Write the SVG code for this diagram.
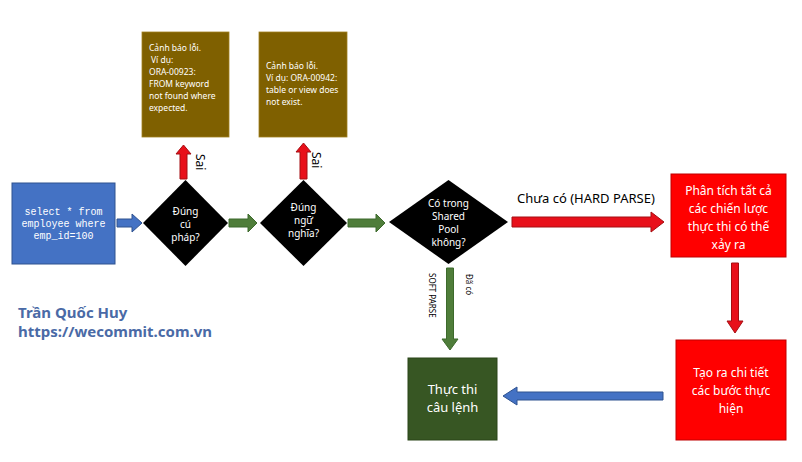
<svg xmlns="http://www.w3.org/2000/svg" width="802" height="462" viewBox="0 0 802 462">
<style>
.t{font-family:"Noto Sans","Liberation Sans",Arial,sans-serif;fill:#fff;text-anchor:middle}
.d{font-size:10px}
.w{font-size:8.5px;text-anchor:start}
.r{font-size:12px}
.mono{font-family:"Liberation Mono","DejaVu Sans Mono",monospace;font-size:10px;fill:#fff;text-anchor:middle}
.lbl{font-family:"Noto Sans","Liberation Sans",Arial,sans-serif;fill:#000}
.red{fill:#e8101a;stroke:#a50e12;stroke-width:1}
.grn{fill:#4f7d3a;stroke:#3d6a2c;stroke-width:1}
.blu{fill:#4472c4;stroke:#2f528f;stroke-width:1}
</style>
<rect width="802" height="462" fill="#fff"/>
<g id="warn1"><rect x="142" y="32" width="87" height="105" fill="#7f6000" stroke="#a08020" stroke-width="0.8"/>
<text class="t w" x="149" y="51">Cảnh báo lỗi.</text>
<text class="t w" x="151" y="63">Ví dụ:</text>
<text class="t w" x="149" y="75">ORA-00923:</text>
<text class="t w" x="149" y="87">FROM keyword</text>
<text class="t w" x="149" y="99">not found where</text>
<text class="t w" x="149" y="111">expected.</text></g>
<g id="warn2"><rect x="259" y="32" width="88" height="105" fill="#7f6000" stroke="#a08020" stroke-width="0.8"/>
<text class="t w" x="266" y="69">Cảnh báo lỗi.</text>
<text class="t w" x="266" y="81">Ví dụ: ORA-00942:</text>
<text class="t w" x="266" y="93">table or view does</text>
<text class="t w" x="266" y="105">not exist.</text></g>
<g id="start"><rect x="12" y="183" width="103" height="81" fill="#4472c4" stroke="#2f528f" stroke-width="1"/>
<text class="mono" x="63.5" y="215">select * from</text>
<text class="mono" x="63.5" y="227">employee where</text>
<text class="mono" x="63.5" y="239">emp_id=100</text></g>
<g id="syntax"><polygon points="185.5,180 228,223 185.5,266 143,223" fill="#000"/>
<text class="t d" x="185.5" y="215">Đúng</text>
<text class="t d" x="185.5" y="228">cú</text>
<text class="t d" x="185.5" y="241">pháp?</text></g>
<g id="semantic"><polygon points="303.5,180 347,223 303.5,266 260,223" fill="#000"/>
<text class="t d" x="303.5" y="211">Đúng</text>
<text class="t d" x="303.5" y="224">ngữ</text>
<text class="t d" x="303.5" y="237">nghĩa?</text></g>
<g id="pool"><polygon points="448.5,180 508,222 448.5,264 389,222" fill="#000"/>
<text class="t d" x="448.5" y="207">Có trong</text>
<text class="t d" x="448.5" y="220">Shared</text>
<text class="t d" x="448.5" y="233">Pool</text>
<text class="t d" x="448.5" y="246">không?</text></g>
<g id="analyze"><rect x="671" y="174" width="115" height="83" fill="#ff0000" stroke="#c00000" stroke-width="1"/>
<text class="t r" x="728.5" y="195">Phân tích tất cả</text>
<text class="t r" x="728.5" y="213">các chiến lược</text>
<text class="t r" x="728.5" y="231">thực thi có thế</text>
<text class="t r" x="728.5" y="249">xảy ra</text></g>
<g id="plan"><rect x="676" y="340" width="110" height="100" fill="#ff0000" stroke="#c00000" stroke-width="1"/>
<text class="t r" x="731" y="377">Tạo ra chi tiết</text>
<text class="t r" x="731" y="395">các bước thực</text>
<text class="t r" x="731" y="413">hiện</text></g>
<g id="exec"><rect x="408" y="358" width="89" height="82" fill="#375623" stroke="#2a4419" stroke-width="1"/>
<text class="t" style="font-size:13px" x="452.5" y="394">Thực thi</text>
<text class="t" style="font-size:13px" x="452.5" y="412">câu lệnh</text></g>
<g id="author">
<text class="lbl" x="18" y="318" style="font-size:15px;font-weight:bold;fill:#4a6aa6">Trần Quốc Huy</text>
<text class="lbl" x="18" y="337" style="font-size:15px;font-weight:bold;fill:#4a6aa6">https://wecommit.com.vn</text></g>
<g id="connectors">
<polygon class="blu" points="117,219 132,219 132,214 142,223 132,232 132,227 117,227"/>
<polygon class="grn" points="229,219 248,219 248,214 257,223 248,232 248,227 229,227"/>
<polygon class="grn" points="348,219 376,219 376,214 385,223 376,232 376,227 348,227"/>
<polygon class="red" points="512,217 651,217 651,212 664,222 651,232 651,227 512,227"/>
<polygon class="red" points="180,179 180,154 176,154 183.5,145 191,154 187,154 187,179"/>
<polygon class="red" points="300,179 300,152 296,152 303.5,143 311,152 307,152 307,179"/>
<polygon class="red" points="731.5,263 738.5,263 738.5,321 743,321 735,333 727,321 731.5,321"/>
<polygon class="grn" points="446.5,268 453.5,268 453.5,339 458,339 450,350 442,339 446.5,339"/>
<polygon class="blu" points="663,392 517,392 517,387 503,396 517,405 517,400 663,400"/>
<text class="lbl" x="517" y="203" style="font-size:13px">Chưa có (HARD PARSE)</text>
<text class="lbl" transform="translate(196,154) rotate(90)" style="font-size:12px">Sai</text>
<text class="lbl" transform="translate(312,152) rotate(90)" style="font-size:12px">Sai</text>
<text class="lbl" transform="translate(429,273) rotate(90)" style="font-size:8px">SOFT PARSE</text>
<text class="lbl" transform="translate(466,274) rotate(90)" style="font-size:8px">Đã có</text>
</g>
</svg>
